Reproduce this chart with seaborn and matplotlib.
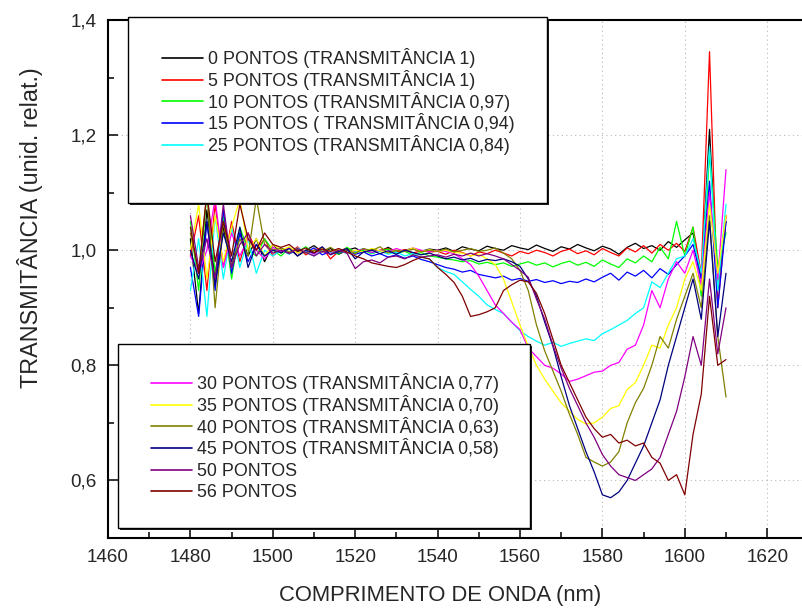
import matplotlib
matplotlib.use("Agg")
import numpy as np
import pandas as pd
import seaborn as sns
import matplotlib.pyplot as plt
from matplotlib.patches import Rectangle
from matplotlib.lines import Line2D
from matplotlib.ticker import MultipleLocator, FuncFormatter

sns.set_theme(style="ticks")
plt.rcParams['font.family'] = ['Liberation Sans', 'DejaVu Sans']

# ── dados ────────────────────────────────────────────────────────
wavelength = [1480, 1482, 1484, 1486, 1488, 1490, 1492, 1494, 1496, 1498,
              1500, 1502, 1504, 1506, 1508, 1510, 1512, 1514, 1516, 1518,
              1520, 1522, 1524, 1526, 1528, 1530, 1532, 1534, 1536, 1538,
              1540, 1542, 1544, 1546, 1548, 1550, 1552, 1554, 1556, 1558,
              1560, 1562, 1564, 1566, 1568, 1570, 1572, 1574, 1576, 1578,
              1580, 1582, 1584, 1586, 1588, 1590, 1592, 1594, 1596, 1598,
              1600, 1602, 1604, 1606, 1608, 1610]

t00 = [1.02, 0.89, 1.07, 0.95, 1.04, 0.97, 1.03, 0.99, 1.02, 0.98, 1.01,
       0.995, 1.005, 0.99, 1.0, 1.008, 0.997, 1.003, 0.993, 1.0, 1.004, 0.996, 1.002, 0.998, 1.005, 0.997, 1.0, 1.003, 0.998, 1.002,
       1.0, 1.004, 0.998, 1.006, 1.002, 0.999, 1.007, 1.003, 1.0, 1.008, 1.004, 1.001, 1.009, 1.003, 0.998, 1.006, 1.002, 1.01, 1.004, 0.999,
       1.007, 1.002, 0.993, 1.005, 1.012, 1.003, 1.008, 1.0, 1.015, 1.005, 1.018,
       1.03, 0.95, 1.21, 0.93, 1.05]
t05 = [0.99, 1.06, 0.93, 1.08, 0.97, 1.05, 0.98, 1.03, 1.0, 1.02, 0.99,
       1.003, 0.995, 1.006, 0.992, 1.0, 1.005, 0.985, 0.998, 1.004, 0.996, 1.002, 0.994, 1.0, 1.003, 0.997, 1.001, 0.995, 0.999, 0.997,
       0.998, 0.993, 1.0, 0.996, 0.99, 0.997, 0.994, 1.0, 0.995, 0.99, 0.998, 0.994, 1.0, 0.996, 0.99, 0.998, 1.002, 0.994, 0.999, 0.992,
       1.003, 0.996, 0.99, 1.004, 0.997, 1.008, 0.995, 1.01, 1.0, 1.012, 0.998,
       1.04, 0.96, 1.345, 0.9, 1.06]
t10 = [1.05, 0.93, 1.1, 0.96, 1.06, 0.95, 1.04, 1.0, 0.99, 1.02, 1.0,
       0.99, 1.004, 0.997, 1.006, 0.995, 1.002, 0.998, 0.993, 1.005, 0.996, 1.0, 0.994, 0.999, 1.002, 0.995, 0.998, 0.992, 0.996, 0.99,
       0.988, 0.985, 0.983, 0.98, 0.982, 0.976, 0.979, 0.975, 0.978, 0.972, 0.976, 0.98, 0.974, 0.978, 0.971, 0.977, 0.981, 0.974, 0.979, 0.972,
       0.983, 0.976, 0.97, 0.985, 0.978, 0.99, 0.98, 1.005, 0.985, 1.05, 0.99,
       1.04, 0.92, 1.17, 0.97, 1.03]
t15 = [0.97, 0.885, 1.05, 0.93, 1.07, 0.96, 1.03, 0.98, 1.01, 0.99, 1.0,
       1.002, 0.994, 1.0, 0.996, 1.004, 0.992, 0.998, 0.995, 1.0, 0.993, 0.997, 0.99, 0.994, 0.988, 0.992, 0.986, 0.99, 0.984, 0.98,
       0.975, 0.97, 0.967, 0.962, 0.965, 0.958, 0.955, 0.952, 0.955, 0.948, 0.951, 0.946, 0.949, 0.944, 0.947, 0.942, 0.946, 0.944, 0.95, 0.945,
       0.953, 0.96, 0.948, 0.962, 0.955, 0.965, 0.952, 0.968, 0.958, 0.975, 0.99,
       1.01, 0.95, 1.12, 0.9, 1.05]
t25 = [0.93, 1.02, 0.885, 1.06, 0.95, 1.04, 0.97, 1.02, 0.96, 1.0, 0.99,
       1.0, 0.993, 1.004, 0.997, 0.99, 1.002, 0.996, 1.0, 0.994, 0.998, 1.003, 0.995, 0.999, 0.993, 0.997, 0.99, 0.994, 0.988, 0.985,
       0.97, 0.963, 0.958, 0.945, 0.932, 0.92, 0.905, 0.897, 0.89, 0.875, 0.86, 0.85, 0.842, 0.835, 0.84, 0.833, 0.838, 0.842, 0.846, 0.843,
       0.855, 0.862, 0.87, 0.878, 0.89, 0.9, 0.945, 0.935, 0.96, 0.985, 0.99,
       1.02, 0.96, 1.18, 0.93, 1.08]
t30 = [0.99, 0.96, 1.0, 1.09, 0.97, 1.03, 0.99, 1.02, 1.0, 0.985, 1.005,
       0.998, 1.004, 0.995, 1.0, 0.993, 1.003, 0.997, 1.001, 0.995, 0.999, 1.002, 0.996, 1.0, 0.997, 1.003, 0.998, 1.004, 1.0, 0.998,
       1.0, 0.998, 0.994, 0.985, 0.975, 0.955, 0.93, 0.905, 0.89, 0.875, 0.862, 0.83, 0.815, 0.8, 0.795, 0.785, 0.772, 0.776, 0.782, 0.788,
       0.79, 0.8, 0.805, 0.828, 0.835, 0.87, 0.93, 0.9, 0.95, 0.98, 0.96,
       1.0, 0.94, 1.1, 0.95, 1.14]
t35 = [1.0, 1.08, 0.95, 1.06, 0.98, 1.04, 1.09, 1.0, 1.02, 0.99, 1.01,
       1.0, 1.006, 0.995, 1.0, 0.996, 1.003, 0.998, 1.001, 0.995, 1.0, 0.997, 1.003, 0.999, 0.996, 1.0, 0.998, 1.004, 0.997, 1.001,
       0.998, 1.0, 0.996, 0.995, 0.99, 0.993, 0.985, 0.975, 0.95, 0.91, 0.87, 0.833, 0.8, 0.776, 0.755, 0.735, 0.72, 0.706, 0.698, 0.7,
       0.71, 0.725, 0.73, 0.758, 0.77, 0.8, 0.835, 0.83, 0.87, 0.9, 0.95,
       0.98, 0.93, 1.08, 0.96, 1.06]
t40 = [1.03, 0.96, 1.1, 0.9, 1.05, 0.97, 1.02, 0.99, 1.09, 1.01, 1.0,
       1.004, 0.997, 1.002, 0.995, 1.0, 0.998, 1.005, 0.996, 1.001, 0.994, 1.003, 0.999, 1.006, 0.995, 1.0, 0.998, 1.002, 0.997, 1.0,
       0.998, 1.002, 0.997, 1.0, 1.003, 0.998, 1.0, 1.004, 0.995, 0.985, 0.965, 0.93, 0.87, 0.825, 0.79, 0.755, 0.715, 0.68, 0.64, 0.632,
       0.625, 0.632, 0.65, 0.7, 0.735, 0.76, 0.8, 0.85, 0.83, 0.88, 0.92,
       0.96, 0.9, 1.06, 0.85, 0.745]
t45 = [1.0, 0.95, 1.05, 0.94, 1.03, 0.98, 1.04, 0.97, 1.01, 0.99, 1.0,
       0.996, 1.003, 0.99, 1.0, 0.995, 1.006, 0.992, 0.998, 1.003, 0.985, 0.997, 1.0, 0.994, 0.999, 0.993, 1.0, 0.996, 0.992, 0.995,
       0.99, 0.985, 0.988, 0.983, 0.986, 0.98, 0.984, 0.982, 0.985, 0.98, 0.972, 0.95, 0.92, 0.875, 0.833, 0.78, 0.73, 0.69, 0.65, 0.615,
       0.575, 0.57, 0.58, 0.6, 0.63, 0.66, 0.7, 0.74, 0.8, 0.85, 0.9,
       0.95, 0.88, 1.05, 0.85, 0.96]
t50 = [1.06, 0.97, 1.02, 0.95, 1.08, 0.97, 1.01, 1.03, 0.99, 1.01, 0.995,
       1.0, 0.994, 1.003, 0.996, 0.99, 0.998, 0.993, 1.0, 0.995, 0.968, 0.98, 0.983, 0.978, 0.988, 0.99, 0.985, 0.992, 0.988, 0.99,
       0.992, 0.988, 0.993, 0.99, 0.995, 0.99, 0.994, 0.99, 0.985, 0.975, 0.965, 0.953, 0.915, 0.88, 0.835, 0.795, 0.76, 0.73, 0.7, 0.675,
       0.645, 0.625, 0.61, 0.605, 0.6, 0.61, 0.62, 0.64, 0.68, 0.72, 0.78,
       0.85, 0.8, 0.95, 0.82, 0.9]
t56 = [1.04, 0.96, 1.1, 0.98, 1.05, 0.99, 1.08, 1.02, 1.0, 1.03, 1.01,
       1.005, 1.01, 0.998, 1.004, 0.996, 1.002, 0.998, 1.003, 0.997, 0.99, 0.985, 0.978, 0.975, 0.972, 0.97, 0.975, 0.982, 0.988, 0.985,
       0.97, 0.958, 0.944, 0.92, 0.885, 0.888, 0.893, 0.9, 0.93, 0.94, 0.948, 0.945, 0.925, 0.89, 0.845, 0.8, 0.77, 0.74, 0.71, 0.69,
       0.675, 0.68, 0.665, 0.67, 0.66, 0.665, 0.64, 0.63, 0.6, 0.61, 0.575,
       0.68, 0.75, 0.92, 0.8, 0.81]

labels = ['0 PONTOS (TRANSMITÂNCIA 1)', '5 PONTOS (TRANSMITÂNCIA 1)',
          '10 PONTOS (TRANSMITÂNCIA 0,97)', '15 PONTOS ( TRANSMITÂNCIA 0,94)',
          '25 PONTOS (TRANSMITÂNCIA 0,84)', '30 PONTOS (TRANSMITÂNCIA 0,77)',
          '35 PONTOS (TRANSMITÂNCIA 0,70)', '40 PONTOS (TRANSMITÂNCIA 0,63)',
          '45 PONTOS (TRANSMITÂNCIA 0,58)', '50 PONTOS', '56 PONTOS']
series = [t00, t05, t10, t15, t25, t30, t35, t40, t45, t50, t56]
colors = ['#000000', '#ff0000', '#00ff00', '#0000ff', '#00ffff', '#ff00ff',
          '#ffff00', '#808000', '#000080', '#800080', '#800000']
xticks = [1460, 1480, 1500, 1520, 1540, 1560, 1580, 1600, 1620]

df = pd.concat([pd.DataFrame({'x': wavelength, 'y': s, 'serie': lab})
                for s, lab in zip(series, labels)], ignore_index=True)

# ── figura ───────────────────────────────────────────────────────
W, H = 802, 612
fig = plt.figure(figsize=(W / 100, H / 100), dpi=100)
ax = fig.add_axes([108 / W, 1 - 538 / H, (849.6 - 108) / W, 518 / H])

sns.lineplot(data=df, x='x', y='y', hue='serie', palette=colors,
             sort=False, estimator=None, lw=0.9, legend=False, ax=ax)

ax.set_xlim(1460, 1640)
ax.set_ylim(0.5, 1.4)
ax.set_xticks(xticks)
ax.xaxis.set_minor_locator(MultipleLocator(10))
ax.yaxis.set_major_locator(MultipleLocator(0.2))
ax.yaxis.set_minor_locator(MultipleLocator(0.1))
ax.yaxis.set_major_formatter(FuncFormatter(lambda v, p: f'{v:.1f}'.replace('.', ',')))
ax.tick_params(which='both', direction='in', color='black', width=1.1, labelsize=13.6)
ax.tick_params(which='major', length=7, pad=8)
ax.tick_params(which='minor', length=4.5)
ax.grid(True, which='major', color='#b8b8b8', linestyle=(0, (1, 3)), lw=0.8)
ax.set_axisbelow(True)
for sp in ax.spines.values():
    sp.set_linewidth(1.5)
    sp.set_color('black')
ax.set_xlabel('')
ax.set_ylabel('')

fig.text(440 / W, 1 - 595 / H, 'COMPRIMENTO DE ONDA (nm)', ha='center', va='center', fontsize=15.8)
fig.text(30 / W, 1 - 228 / H, 'TRANSMITÂNCIA (unid. relat.)', ha='center', va='center',
         rotation=90, fontsize=16.8)

# caixas das legendas (com sombra)
def caixa(x0, y0, x1, y1):
    fig.add_artist(Rectangle(((x0 + 2) / W, 1 - (y1 + 2) / H), (x1 - x0) / W, (y1 - y0) / H,
                             transform=fig.transFigure, facecolor='#202020', edgecolor='none', zorder=2.9))
    fig.add_artist(Rectangle((x0 / W, 1 - y1 / H), (x1 - x0) / W, (y1 - y0) / H,
                             transform=fig.transFigure, facecolor='white', edgecolor='black',
                             lw=1.0, zorder=3))

caixa(128, 17, 547, 203)
caixa(118, 344, 530, 528)

handles = [Line2D([], [], color=c, lw=1.2) for c in colors]
leg_kw = dict(loc='upper left', frameon=False, borderpad=0, borderaxespad=0,
              handlelength=2.27, handletextpad=0.28, fontsize=12.9)
fig.legend(handles[:5], labels[:5], bbox_to_anchor=(162 / W, 1 - 48 / H),
           labelspacing=0.1, **leg_kw)
fig.legend(handles[5:9], labels[5:9], bbox_to_anchor=(151 / W, 1 - 373 / H),
           labelspacing=0.1, **leg_kw)
fig.legend(handles[9:], labels[9:], bbox_to_anchor=(151 / W, 1 - 463 / H),
           labelspacing=0.25, **leg_kw)

fig.savefig('out.png', dpi=100)
